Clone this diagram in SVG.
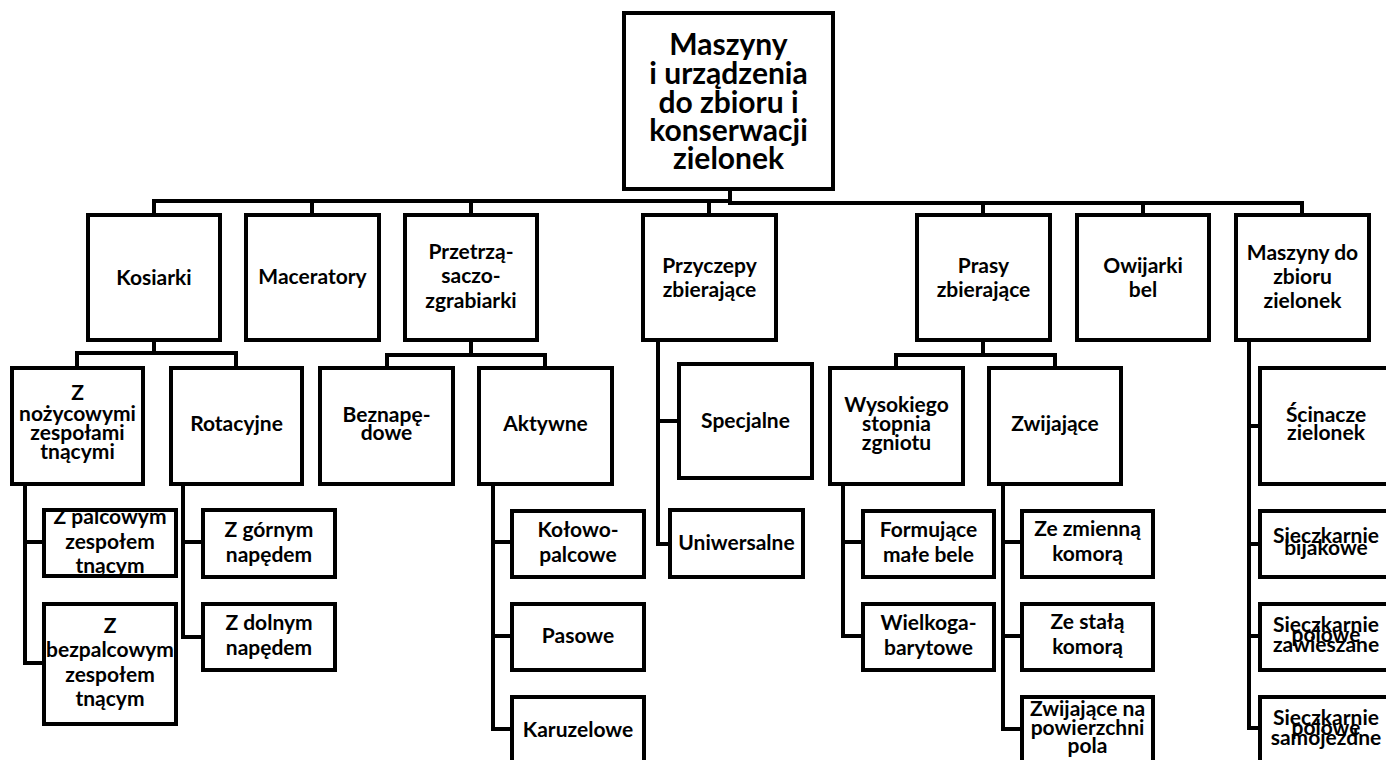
<svg xmlns="http://www.w3.org/2000/svg" width="1386" height="760" viewBox="0 0 1386 760">
<style>
.b{fill:#fff;stroke:#000;stroke-width:4}
.c{fill:none;stroke:#000;stroke-width:4;stroke-linejoin:miter;stroke-linecap:square}
text{font-family:Lato,"Open Sans","Liberation Sans",sans-serif;font-weight:bold;font-size:21px;text-anchor:middle;fill:#000}
.r{font-size:30px}
</style>
<rect width="1386" height="760" fill="#fff"/>
<g id="connectors">
<path class="c" d="M730 189V203M154 215V201H730M730 203H1302V215M312 201V215M471 201V215M709 203V215M983 203V215M1143 203V215"/>
<path class="c" d="M154 340V353M77 368V353H236V368"/>
<path class="c" d="M471 340V355M387 368V355H545V368"/>
<path class="c" d="M658 340V544H670M658 421H679"/>
<path class="c" d="M983 340V355M896 368V355H1055V368"/>
<path class="c" d="M1249 340V728H1260M1249 426H1260M1249 544H1260M1249 636H1260"/>
<path class="c" d="M25 483V663H44M25 542H44"/>
<path class="c" d="M183 483V637H203M183 542H203"/>
<path class="c" d="M493 484V729H512M493 542H512M493 636H512"/>
<path class="c" d="M843 484V636H863M843 542H863"/>
<path class="c" d="M1003 484V729H1022M1003 542H1022M1003 636H1022"/>
</g>
<g id="root"><rect class="b" x="624" y="13" width="209" height="176"/>
<text class="r" x="728.5"><tspan x="728.5" y="55">Maszyny</tspan><tspan x="728.5" y="84">i urządzenia</tspan><tspan x="728.5" y="113">do zbioru i</tspan><tspan x="728.5" y="141">konserwacji</tspan><tspan x="728.5" y="169">zielonek</tspan></text></g>
<g id="kosiarki"><rect class="b" x="88" y="215" width="132" height="125"/><text x="154" y="285">Kosiarki</text></g>
<g id="maceratory"><rect class="b" x="246" y="215" width="133" height="125"/><text x="312.5" y="284">Maceratory</text></g>
<g id="przetrzasaczo"><rect class="b" x="405" y="215" width="132" height="125"/><text><tspan x="471" y="259">Przetrzą-</tspan><tspan x="471" y="283">saczo-</tspan><tspan x="471" y="308">zgrabiarki</tspan></text></g>
<g id="przyczepy"><rect class="b" x="643" y="215" width="133" height="125"/><text><tspan x="709.5" y="273">Przyczepy</tspan><tspan x="709.5" y="297">zbierające</tspan></text></g>
<g id="prasy"><rect class="b" x="917" y="215" width="133" height="125"/><text><tspan x="983.5" y="273">Prasy</tspan><tspan x="983.5" y="297">zbierające</tspan></text></g>
<g id="owijarki"><rect class="b" x="1077" y="215" width="132" height="125"/><text><tspan x="1143" y="273">Owijarki</tspan><tspan x="1143" y="297">bel</tspan></text></g>
<g id="maszyny-zbioru"><rect class="b" x="1236" y="215" width="133" height="125"/><text><tspan x="1302.5" y="260">Maszyny do</tspan><tspan x="1302.5" y="284">zbioru</tspan><tspan x="1302.5" y="308">zielonek</tspan></text></g>
<g id="nozycowe"><rect class="b" x="12" y="368" width="131" height="116"/><text><tspan x="77.5" y="400">Z</tspan><tspan x="77.5" y="421">nożycowymi</tspan><tspan x="77.5" y="440">zespołami</tspan><tspan x="77.5" y="459">tnącymi</tspan></text></g>
<g id="rotacyjne"><rect class="b" x="171" y="368" width="131" height="116"/><text x="236.5" y="431">Rotacyjne</text></g>
<g id="beznapedowe"><rect class="b" x="320" y="368" width="133" height="116"/><text><tspan x="386.5" y="422">Beznapę-</tspan><tspan x="386.5" y="440">dowe</tspan></text></g>
<g id="aktywne"><rect class="b" x="479" y="368" width="133" height="116"/><text x="545.5" y="431">Aktywne</text></g>
<g id="specjalne"><rect class="b" x="679" y="364" width="133" height="114"/><text x="745.5" y="428">Specjalne</text></g>
<g id="uniwersalne"><rect class="b" x="670" y="510" width="133" height="67"/><text x="736.5" y="550">Uniwersalne</text></g>
<g id="wysokiego"><rect class="b" x="830" y="368" width="133" height="116"/><text><tspan x="896.5" y="412">Wysokiego</tspan><tspan x="896.5" y="431">stopnia</tspan><tspan x="896.5" y="450">zgniotu</tspan></text></g>
<g id="zwijajace"><rect class="b" x="989" y="368" width="132" height="116"/><text x="1055" y="431">Zwijające</text></g>
<g id="scinacze"><rect class="b" x="1260" y="368" width="132" height="116"/><text><tspan x="1326" y="422">Ścinacze</tspan><tspan x="1326" y="440">zielonek</tspan></text></g>
<g id="palcowym"><rect class="b" x="44" y="510" width="132" height="66"/><text><tspan x="110" y="524">Z palcowym</tspan><tspan x="110" y="549">zespołem</tspan><tspan x="110" y="573">tnącym</tspan></text></g>
<g id="bezpalcowym"><rect class="b" x="44" y="604" width="132" height="120"/><text><tspan x="110" y="633">Z</tspan><tspan x="110" y="657">bezpalcowym</tspan><tspan x="110" y="682">zespołem</tspan><tspan x="110" y="706">tnącym</tspan></text></g>
<g id="gornym"><rect class="b" x="203" y="510" width="132" height="67"/><text><tspan x="269" y="537">Z górnym</tspan><tspan x="269" y="562">napędem</tspan></text></g>
<g id="dolnym"><rect class="b" x="203" y="604" width="132" height="66"/><text><tspan x="269" y="630">Z dolnym</tspan><tspan x="269" y="655">napędem</tspan></text></g>
<g id="kolowo"><rect class="b" x="512" y="511" width="132" height="66"/><text><tspan x="578" y="537">Kołowo-</tspan><tspan x="578" y="562">palcowe</tspan></text></g>
<g id="pasowe"><rect class="b" x="512" y="604" width="132" height="66"/><text x="578" y="643">Pasowe</text></g>
<g id="karuzelowe"><rect class="b" x="512" y="697" width="132" height="70"/><text x="578" y="737">Karuzelowe</text></g>
<g id="formujace"><rect class="b" x="863" y="511" width="131" height="66"/><text><tspan x="928.5" y="537">Formujące</tspan><tspan x="928.5" y="562">małe bele</tspan></text></g>
<g id="wielkogabarytowe"><rect class="b" x="863" y="604" width="131" height="66"/><text><tspan x="928.5" y="630">Wielkoga-</tspan><tspan x="928.5" y="655">barytowe</tspan></text></g>
<g id="zmienna"><rect class="b" x="1022" y="511" width="131" height="66"/><text><tspan x="1087.5" y="536">Ze zmienną</tspan><tspan x="1087.5" y="561">komorą</tspan></text></g>
<g id="stala"><rect class="b" x="1022" y="604" width="131" height="66"/><text><tspan x="1087.5" y="629">Ze stałą</tspan><tspan x="1087.5" y="654">komorą</tspan></text></g>
<g id="powierzchni"><rect class="b" x="1022" y="697" width="131" height="70"/><text><tspan x="1087.5" y="716">Zwijające na</tspan><tspan x="1087.5" y="735">powierzchni</tspan><tspan x="1087.5" y="753">pola</tspan></text></g>
<g id="bijakowe"><rect class="b" x="1260" y="511" width="132" height="66"/><text><tspan x="1326" y="543">Sieczkarnie</tspan><tspan x="1326" y="555">bijakowe</tspan></text></g>
<g id="zawieszane"><rect class="b" x="1260" y="604" width="132" height="66"/><text><tspan x="1326" y="632">Sieczkarnie</tspan><tspan x="1326" y="642">polowe</tspan><tspan x="1326" y="652">zawieszane</tspan></text></g>
<g id="samojezdne"><rect class="b" x="1260" y="697" width="132" height="70"/><text><tspan x="1326" y="725">Sieczkarnie</tspan><tspan x="1326" y="735">polowe</tspan><tspan x="1326" y="745">samojezdne</tspan></text></g>
</svg>
